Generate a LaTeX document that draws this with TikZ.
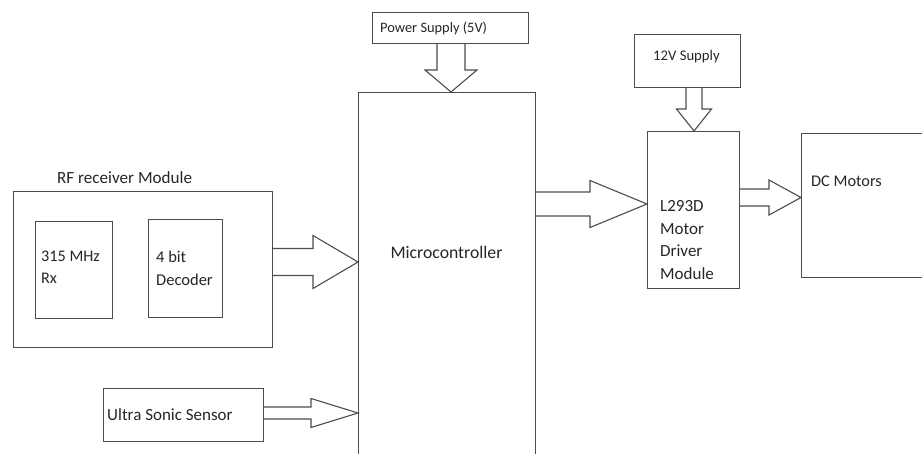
\documentclass[tikz,border=0pt]{standalone}
\usepackage{fontspec}
\setmainfont{Carlito}
\usetikzlibrary{calc}
\newcommand{\harr}[5]{\draw[conn] let \p1=(#1), \p2=(#2) in (\x1,\y2+#3) -- (\x2-#5,\y2+#3) -- (\x2-#5,\y2+#4) -- (\x2,\y2) -- (\x2-#5,\y2-#4) -- (\x2-#5,\y2-#3) -- (\x1,\y2-#3);}
\newcommand{\varr}[5]{\draw[conn] let \p1=(#1), \p2=(#2) in (\x2-#3,\y1) -- (\x2-#3,\y2+#5) -- (\x2-#4,\y2+#5) -- (\x2,\y2) -- (\x2+#4,\y2+#5) -- (\x2+#3,\y2+#5) -- (\x2+#3,\y1);}
\begin{document}
\begin{tikzpicture}[x=1pt,y=-1pt,
  box/.style={draw=black!70,line width=1.1pt,rectangle,inner sep=0pt,anchor=north west},
  lbl/.style={text=black!85,inner sep=0pt,anchor=west,align=left,font=\fontsize{17}{22.5}\selectfont},
  conn/.style={draw=black!70,line width=1.1pt,line join=miter}]
\useasboundingbox (0,0) rectangle (922,453);
\clip (0,0) rectangle (922,453);
\fill[white] (0,0) rectangle (922,453);
% boxes
\node[box,minimum width=156pt,minimum height=31pt] (ps) at (372,12) {};
\node[box,minimum width=177pt,minimum height=380pt] (mc) at (358,92) {};
\node[box,minimum width=106pt,minimum height=53pt] (v12) at (634,34) {};
\node[box,minimum width=92pt,minimum height=157pt] (l293) at (647,131) {};
\node[box,minimum width=130pt,minimum height=144pt] (dc) at (801,133) {};
\node[box,minimum width=259pt,minimum height=156pt] (rf) at (13,191) {};
\node[box,minimum width=77pt,minimum height=97pt] (rx) at (35,221) {};
\node[box,minimum width=74pt,minimum height=98pt] (dec) at (148,219) {};
\node[box,minimum width=160pt,minimum height=53pt] (us) at (103,388) {};
% texts
\node[lbl,font=\fontsize{14.4}{17}\selectfont] (tps) at (380,28) {Power Supply (5V)};
\node[lbl,font=\fontsize{17.7}{21}\selectfont,anchor=center] (tmc) at (446.5,252) {Microcontroller};
\node[lbl,font=\fontsize{14.7}{17}\selectfont] (tv12) at (653,57) {12V Supply};
\node[lbl] (tl293) at (660,240) {L293D\\Motor\\Driver\\Module};
\node[lbl,font=\fontsize{16.3}{19}\selectfont] (tdc) at (811,181) {DC Motors};
\node[lbl,font=\fontsize{17.1}{20}\selectfont] (trf) at (57,178) {RF receiver Module};
\node[lbl,font=\fontsize{16.2}{22.5}\selectfont] (trx) at (41,267) {315 MHz\\Rx};
\node[lbl,font=\fontsize{16.5}{22.5}\selectfont] (tdec) at (156,268.5) {4 bit\\Decoder};
\node[lbl] (tus) at (107,415) {Ultra Sonic Sensor};
% block arrows
\varr{ps.south}{mc.north -| 451,0}{14pt}{26pt}{22pt}
\varr{v12.south}{l293.north -| 694,0}{8pt}{17.5pt}{22pt}
\harr{rf.east}{mc.west |- 0,262}{13.5pt}{26.5pt}{45pt}
\harr{us.east}{mc.west |- 0,413}{6pt}{14.5pt}{47pt}
\harr{mc.east}{l293.west |- 0,204}{12pt}{23.5pt}{57pt}
\harr{l293.east}{dc.west |- 0,197.5}{8.5pt}{17.5pt}{32pt}
\end{tikzpicture}
\end{document}
